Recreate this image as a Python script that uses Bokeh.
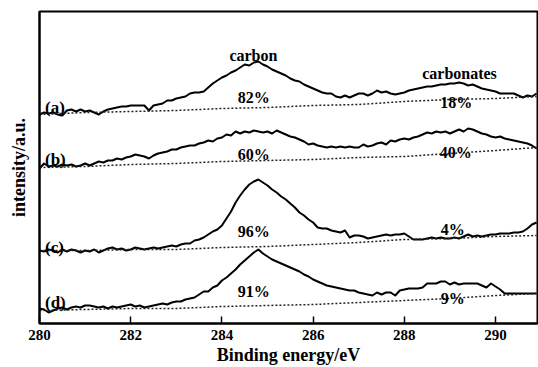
import numpy as np
from bokeh.plotting import figure
from bokeh.models import Range1d, FixedTicker
from bokeh.core.properties import value
from bokeh.embed import file_html
from bokeh.resources import INLINE

# Binding-energy grid (eV) shared by the four C 1s spectra
energy = np.linspace(280.0, 290.9, 110)

# C 1s spectra, intensity in arbitrary units (already vertically offset)
spec_a = [209, 211, 210, 211, 209, 208, 213, 214, 212, 214,
          212, 213, 211, 209, 212, 214, 215, 216, 217, 217,
          218, 218, 218, 218, 213, 218, 219, 220, 223, 223,
          225, 226, 227, 230, 231, 231, 232, 236, 240, 243,
          246, 248, 251, 253, 256, 259, 258, 261, 262, 259,
          257, 254, 252, 250, 248, 245, 243, 242, 239, 237,
          235, 233, 231, 230, 230, 227, 226, 228, 226, 228,
          230, 230, 228, 230, 233, 231, 232, 230, 229, 230,
          231, 233, 234, 235, 236, 237, 237, 238, 239, 239,
          240, 240, 241, 240, 238, 239, 237, 235, 234, 233,
          232, 230, 230, 230, 230, 228, 226, 228, 227, 230]

spec_b = [155, 160, 157, 158, 157, 159, 158, 159, 157, 158,
          160, 158, 160, 162, 161, 163, 163, 165, 164, 166,
          167, 169, 168, 167, 165, 168, 170, 171, 172, 174,
          174, 176, 177, 178, 178, 180, 181, 183, 182, 185,
          186, 189, 188, 192, 190, 192, 191, 193, 192, 191,
          192, 190, 193, 191, 189, 187, 186, 184, 182, 179,
          180, 178, 177, 176, 177, 176, 177, 176, 177, 176,
          176, 179, 177, 178, 180, 181, 179, 183, 182, 184,
          185, 184, 186, 187, 189, 191, 190, 192, 191, 192,
          190, 192, 194, 192, 195, 194, 192, 190, 189, 187,
          186, 187, 185, 184, 183, 182, 181, 180, 178, 175]

spec_c = [73, 72, 74, 73, 71, 74, 72, 74, 73, 71,
          73, 72, 74, 71, 73, 75, 76, 74, 75, 73,
          74, 76, 75, 74, 75, 76, 75, 76, 77, 78,
          77, 79, 80, 80, 83, 84, 86, 89, 92, 94,
          98, 105, 112, 121, 128, 134, 139, 142, 144, 141,
          138, 134, 131, 127, 124, 120, 116, 111, 108, 104,
          101, 96, 95, 95, 93, 92, 91, 93, 86, 88,
          88, 87, 85, 86, 87, 88, 89, 88, 89, 89,
          90, 87, 84, 84, 84, 85, 86, 85, 86, 85,
          85, 86, 85, 87, 89, 87, 88, 87, 88, 89,
          89, 90, 90, 90, 91, 91, 92, 95, 99, 101]

spec_d = [15, 14, 11, 13, 15, 16, 14, 16, 17, 16,
          18, 18, 17, 16, 17, 15, 17, 16, 17, 18,
          19, 17, 18, 16, 17, 18, 19, 20, 19, 21,
          22, 22, 24, 25, 26, 29, 32, 32, 36, 38,
          43, 46, 50, 54, 59, 63, 67, 71, 74, 70,
          67, 64, 62, 60, 58, 56, 54, 52, 49, 47,
          44, 42, 40, 38, 37, 36, 35, 34, 33, 33,
          31, 30, 29, 28, 31, 29, 31, 31, 28, 33,
          34, 35, 35, 35, 36, 40, 40, 40, 42, 42,
          39, 41, 39, 40, 40, 40, 40, 38, 36, 40,
          37, 34, 30, 30, 30, 30, 30, 30, 30, 30]

# Background lines under each spectrum
base_energy = [280, 281, 282, 283, 284, 285, 286, 287, 288, 289, 290, 290.9]
base_a = [209, 211, 212, 213, 215, 216, 218, 219, 222, 224, 225, 227]
base_b = [156, 157, 159, 160, 162, 163, 164, 166, 167, 170, 173, 176]
base_c = [73, 73, 74, 74, 76, 77, 79, 81, 84, 85, 87, 88]
base_d = [13, 14, 15, 15, 17, 18, 19, 21, 23, 25, 28, 30]

# Sample tags and peak-area fractions
sample_tags = ["(a)", "(b)", "(c)", "(d)"]
tag_level = [216, 164, 76, 21]
carbon_pct = ["82%", "60%", "96%", "91%"]
carbon_level = [226, 169, 92, 32]
carbonate_pct = ["18%", "40%", "4%", "9%"]
carbonate_pos = [289.14, 289.13, 289.06, 289.06]
carbonate_level = [221, 171, 94, 25]
x_ticks = [280, 282, 284, 286, 288, 290]

SERIF = "Liberation Serif"
INK = "#000000"

p = figure(width=538, height=367, output_backend="svg", toolbar_location=None,
           x_range=Range1d(280, 290.92), y_range=Range1d(0, 312),
           min_border_left=39, min_border_right=1, min_border_top=11,
           min_border_bottom=44)
p.grid.visible = False
p.outline_line_color = "black"
p.outline_line_width = 2
p.background_fill_color = "white"
p.border_fill_color = "white"

for spec in (spec_a, spec_b, spec_c, spec_d):
    p.line(energy, spec, line_color=INK, line_width=2.0, line_join="round")

for base in (base_a, base_b, base_c, base_d):
    p.line(base_energy, base, line_color="#222222", line_width=1.5,
           line_dash="2 2")

txt = dict(text_font=value(SERIF), text_font_style="bold",
           text_color=INK, text_baseline="alphabetic")

p.text(x=[280.12] * 4, y=tag_level, text=sample_tags, text_align="left",
       text_font_size="17px", **txt)
p.text(x=[284.70] * 4, y=carbon_level, text=carbon_pct, text_align="center",
       text_font_size="16px", **txt)
p.text(x=carbonate_pos, y=carbonate_level, text=carbonate_pct,
       text_align="center", text_font_size="16px", **txt)
p.text(x=[284.69, 289.21], y=[268, 250], text=["carbon", "carbonates"],
       text_align="center", text_font_size="16px", **txt)

xa = p.xaxis[0]
xa.ticker = FixedTicker(ticks=x_ticks)
xa.axis_label = "Binding energy/eV"
xa.axis_line_width = 2
xa.major_tick_in = 7
xa.major_tick_out = 0
xa.major_tick_line_width = 1.5
xa.minor_tick_line_color = None
xa.major_label_standoff = 6
xa.major_label_text_font = SERIF
xa.major_label_text_font_style = "bold"
xa.major_label_text_font_size = "15px"
xa.major_label_text_color = INK
xa.axis_label_text_font = SERIF
xa.axis_label_text_font_style = "bold"
xa.axis_label_text_font_size = "18px"
xa.axis_label_text_color = INK
xa.axis_label_standoff = 2

ya = p.yaxis[0]
ya.ticker = FixedTicker(ticks=[])
ya.axis_label = "intensity/a.u."
ya.axis_line_width = 2
ya.major_tick_in = 0
ya.major_tick_out = 0
ya.minor_tick_line_color = None
ya.major_label_text_font_size = "0px"
ya.axis_label_text_font = SERIF
ya.axis_label_text_font_style = "bold"
ya.axis_label_text_font_size = "18px"
ya.axis_label_text_color = INK
ya.axis_label_standoff = 11

open("out.html", "w").write(file_html(p, INLINE))
